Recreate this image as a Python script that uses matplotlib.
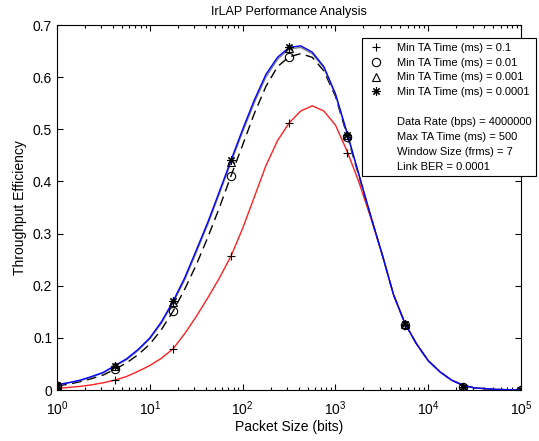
import numpy as np
import matplotlib
matplotlib.use("Agg")
import matplotlib.pyplot as plt
from matplotlib.lines import Line2D
from matplotlib.ticker import LogLocator, LogFormatterMathtext

plt.rcParams['font.family'] = ['Liberation Sans', 'DejaVu Sans']
plt.rcParams['mathtext.default'] = 'regular'

# smooth curves (1/8 decade steps)
curve_x = [1, 1.334, 1.778, 2.371, 3.162, 4.217, 5.623, 7.499,
           10, 13.34, 17.78, 23.71, 31.62, 42.17, 56.23, 74.99,
           100, 133.4, 177.8, 237.1, 316.2, 421.7, 562.3, 749.9,
           1000, 1334, 1778, 2371, 3162, 4217, 5623, 7499,
           10000, 13340, 17780, 23710, 31620, 56230, 100000]
eff_01 = [0.003, 0.005, 0.007, 0.010, 0.014, 0.019, 0.026, 0.036,
          0.047, 0.061, 0.079, 0.108, 0.141, 0.177, 0.215, 0.257,
          0.310, 0.370, 0.430, 0.478, 0.512, 0.535, 0.545, 0.535,
          0.508, 0.458, 0.400, 0.333, 0.262, 0.183, 0.127, 0.088,
          0.056, 0.035, 0.019, 0.009, 0.004, 0.001, 0.000]
eff_001 = [0.008, 0.011, 0.016, 0.022, 0.029, 0.040, 0.052, 0.068,
           0.088, 0.116, 0.151, 0.193, 0.240, 0.293, 0.350, 0.411,
           0.470, 0.530, 0.582, 0.620, 0.639, 0.645, 0.638, 0.612,
           0.563, 0.488, 0.412, 0.336, 0.262, 0.183, 0.127, 0.088,
           0.056, 0.035, 0.019, 0.009, 0.004, 0.001, 0.000]
eff_0001 = [0.010, 0.014, 0.018, 0.025, 0.033, 0.046, 0.058, 0.076,
            0.098, 0.128, 0.167, 0.211, 0.264, 0.318, 0.377, 0.437,
            0.495, 0.551, 0.600, 0.634, 0.654, 0.657, 0.645, 0.618,
            0.566, 0.492, 0.414, 0.336, 0.262, 0.183, 0.127, 0.088,
            0.056, 0.035, 0.019, 0.009, 0.004, 0.001, 0.000]
eff_00001 = [0.010, 0.014, 0.019, 0.026, 0.034, 0.047, 0.060, 0.078,
             0.100, 0.131, 0.170, 0.215, 0.268, 0.322, 0.381, 0.441,
             0.500, 0.556, 0.605, 0.638, 0.657, 0.660, 0.648, 0.620,
             0.568, 0.493, 0.415, 0.337, 0.262, 0.183, 0.127, 0.088,
             0.056, 0.035, 0.019, 0.009, 0.004, 0.001, 0.000]

# marker samples
mark_x = [1, 4.217, 17.78, 74.99, 316.2, 1334, 5623, 23714, 100000]
mark_01 = [0.003, 0.019, 0.079, 0.257, 0.512, 0.455, 0.125, 0.005, 0.0]
mark_001 = [0.008, 0.040, 0.151, 0.411, 0.639, 0.486, 0.125, 0.005, 0.0]
mark_0001 = [0.010, 0.046, 0.168, 0.437, 0.656, 0.489, 0.127, 0.005, 0.0]
mark_00001 = [0.010, 0.047, 0.170, 0.441, 0.658, 0.490, 0.127, 0.005, 0.0]

labels = ['Min TA Time (ms) = 0.1', 'Min TA Time (ms) = 0.01',
          'Min TA Time (ms) = 0.001', 'Min TA Time (ms) = 0.0001']
params = ['Data Rate (bps) = 4000000', 'Max TA Time (ms) = 500',
          'Window Size (frms) = 7', 'Link BER = 0.0001']

fig = plt.figure(figsize=(5.39, 4.41), dpi=100)
ax = fig.add_axes([0.1058, 0.1156, 0.861, 0.8277])

ax.plot(curve_x, eff_01, color='#ff2020', lw=1)
ax.plot(curve_x, eff_001, color='black', lw=1, dashes=(7, 4))
ax.plot(curve_x, eff_0001, color='#808080', lw=1)
ax.plot(curve_x, eff_00001, color='#0000ff', lw=1)

mk = dict(color='black', linestyle='none', markersize=6, markeredgewidth=0.8)
star = (8, 2, 0)
ax.plot(mark_x, mark_01, marker='+', **mk)
ax.plot(mark_x, mark_001, marker='o', markerfacecolor='none', **mk)
ax.plot(mark_x, mark_0001, marker='^', markerfacecolor='none', **mk)
ax.plot(mark_x, mark_00001, marker=star, **mk)

ax.set_xscale('log')
ax.set_xlim(1, 1e5)
ax.set_ylim(0, 0.7)
ax.set_yticks([0, 0.1, 0.2, 0.3, 0.4, 0.5, 0.6, 0.7])
ax.set_yticklabels(['0', '0.1', '0.2', '0.3', '0.4', '0.5', '0.6', '0.7'])
ax.xaxis.set_major_locator(LogLocator(base=10, numticks=10))
ax.xaxis.set_major_formatter(LogFormatterMathtext())
ax.xaxis.set_minor_locator(LogLocator(base=10, subs=np.arange(2, 10), numticks=20))
ax.tick_params(which='both', direction='in', top=True, right=True, labelsize=10)
ax.tick_params(which='major', length=4, width=0.8)
ax.tick_params(which='minor', length=2.5, width=0.8)
ax.tick_params(axis='x', which='major', pad=7)
for s in ax.spines.values():
    s.set_linewidth(0.8)

ax.set_xlabel('Packet Size (bits)', fontsize=10, labelpad=1)
ax.set_ylabel('Throughput Efficiency', fontsize=10, labelpad=4)
ax.set_title('IrLAP Performance Analysis', fontsize=9, pad=7)

handles = [Line2D([], [], marker='+', **mk),
           Line2D([], [], marker='o', markerfacecolor='none', **mk),
           Line2D([], [], marker='^', markerfacecolor='none', **mk),
           Line2D([], [], marker=star, **mk),
           Line2D([], [], linestyle='none')]
handles += [Line2D([], [], linestyle='none') for _ in params]
leg = fig.legend(handles, labels + [''] + params, loc='upper left',
                 bbox_to_anchor=(362 / 539, 1 - 38 / 441), fontsize=8,
                 frameon=True, fancybox=False, framealpha=1, edgecolor='black',
                 handlelength=1.6, handletextpad=1.1, labelspacing=0.44,
                 borderpad=0.42, borderaxespad=0)
leg.get_frame().set_linewidth(0.8)

fig.savefig('out.png', dpi=100)
